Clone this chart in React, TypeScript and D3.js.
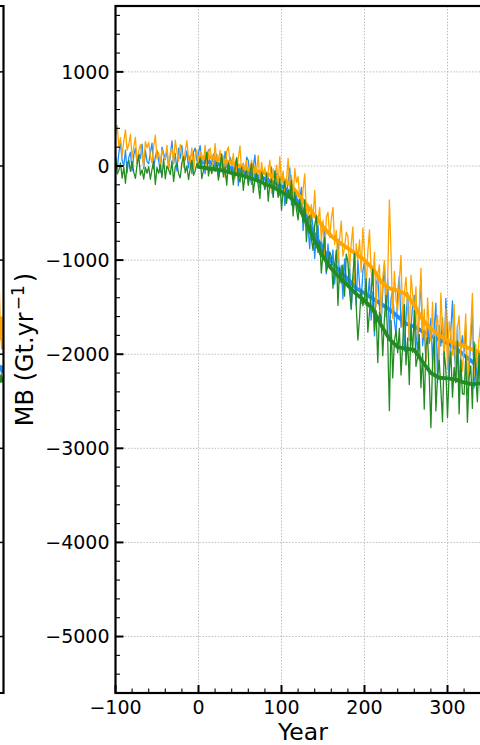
import React from 'react';
import * as d3 from 'd3';

// Annual mass balance (Gt/yr), one value every RAW_STEP years from START_YEAR
const START_YEAR = -100;
const RAW_STEP = 2;

const orangeRaw = [
  348, 432, 204, 300, 108, 264, 384, 168, 228, 336,
  83, 204, 303, 28, 160, 226, 116, -5, 259, 193,
  251, 108, 31, 207, 328, 75, 141, 20, 174, 97,
  76, 219, -23, 142, 186, 32, 274, 153, 54, 230,
  138, -16, 160, 270, 83, 28, 193, -49, 116, 171,
  -9, 156, 112, 46, 222, -42, 145, 189, 57, 2,
  238, 10, 58, 166, -50, 106, -122, 154, 202, 46,
  22, 130, -134, -26, 82, 214, -86, 34, -50, 58,
  -201, -21, 63, -117, 3, -57, 111, -177, 39, -93,
  -17, -212, -56, 61, -290, -30, -121, 9, -186, 100,
  -190, -55, -310, -145, 80, -250, -100, -355, -25, -175,
  -113, -356, -498, -248, -84, -497, -418, -627, -412, -553,
  -259, -642, -588, -439, -803, -578, -961, -546, -492, -761,
  -565, -439, -833, -687, -1021, -775, -587, -959, -871, -703,
  -743, -1085, -833, -647, -1253, -825, -992, -785, -1128, -657,
  -925, -1293, -911, -679, -1122, -1265, -918, -1496, -1149, -1052,
  -1594, -1188, -1006, -1440, -1174, -360, -941, -1618, -1119, -1432,
  -1535, -1212, -949, -1706, -1353, -1180, -1504, -1858, -1162, -1366,
  -1544, -1286, -1860, -1538, -1088, -1822, -1522, -2086, -1402, -1742,
  -1862, -1447, -2187, -1706, -1588, -2064, -1349, -1723, -2031, -1514,
  -2161, -1657, -1799, -2009, -1471, -2293, -1721, -1591, -2005, -2181,
  -1880, -1572, -2349, -2041, -1733, -1355, -2237, -1894, -2146, -1838,
  -1670,
];

const blueRaw = [
  113, -41, 135, 245, 58, 3, 168, -74, 91, 146,
  -53, 112, 189, 24, 134, 79, 233, -31, 167, 46,
  23, 144, 243, -32, 100, 166, 56, -65, 199, 133,
  68, 167, -20, 101, 266, 24, 134, -53, 189, 79,
  220, 30, 70, 160, -20, 110, -80, 150, 190, 60,
  139, 216, 7, 95, -81, 62, 172, -26, 29, 128,
  -12, 125, -122, 37, 76, -83, 154, 27, -77, 94,
  41, -129, -2, 92, -210, 5, -77, 28, -142, 95,
  57, -105, -195, -9, 117, -165, -99, -237, -75, -165,
  -252, -65, -126, -212, -13, -333, -120, -77, -241, -315,
  -200, -77, -419, -296, -173, -20, -416, -287, -413, -299,
  -499, -346, -227, -686, -516, -448, -655, -879, -508, -647,
  -982, -728, -626, -942, -783, -909, -667, -1147, -829, -1062,
  -1050, -892, -1254, -1056, -778, -1240, -1056, -1412, -988, -1204,
  -1288, -1022, -1526, -1216, -1148, -1476, -1002, -1254, -1462, -1120,
  -1014, -1482, -1398, -1194, -1638, -1338, -1805, -1264, -1179, -1502,
  -1699, -1321, -1050, -1605, -1201, -1837, -1410, -1321, -1648, -1793,
  -1348, -1167, -1714, -1505, -1968, -1619, -1345, -1855, -1721, -1475,
  -1375, -1776, -1997, -1528, -1209, -1910, -1739, -2078, -1667, -1886,
  -1619, -2092, -1728, -1457, -2302, -1690, -1914, -1611, -2083, -1408,
  -1784, -2243, -1742, -1433, -1988, -2159, -1694, -2413, -1948, -1803,
  -1977, -1694, -2434, -2151, -1868, -1519, -2360, -2046, -2293, -2012,
  -2358,
];

const greenRaw = [
  86, -85, -49, 32, -130, -13, -184, 23, 59, -58,
  49, -68, -131, 13, 112, -95, -41, -140, -14, -77,
  -6, -141, -33, 48, -195, -15, -78, 12, -123, 75,
  -136, -1, -37, -91, 53, -163, -10, 26, -82, -127,
  36, 99, -72, 0, -144, -27, 63, -99, -54, 27,
  0, 88, -135, -47, 40, 148, -105, -7, -80, 8,
  -57, 39, -151, -33, 129, -116, -11, -203, 34, -81,
  -42, -200, -28, 78, -113, -172, -12, -259, -99, -49,
  -204, -78, 24, -282, -144, -78, -206, -346, -66, -146,
  -242, -80, -373, -185, -140, -329, -53, -206, -333, -135,
  -470, -256, -162, -398, -259, -345, -153, -531, -279, -462,
  -573, -354, -458, -596, -360, -804, -555, -527, -771, -896,
  -629, -528, -921, -801, -1137, -922, -758, -1126, -1057, -912,
  -964, -1298, -1065, -895, -1481, -1080, -1244, -1051, -1383, -938,
  -1017, -1334, -1513, -1163, -928, -1475, -1850, -1618, -1310, -1485,
  -1405, -1198, -1766, -1559, -1352, -1095, -1754, -1538, -2090, -1556,
  -1609, -2017, -1615, -1375, -1864, -2600, -1641, -2252, -1864, -1746,
  -1983, -1725, -2221, -1905, -1473, -2114, -1827, -2323, -1688, -1981,
  -1535, -2130, -2035, -1790, -2355, -1990, -2584, -1918, -1822, -2236,
  -2780, -2086, -1817, -2602, -2240, -2064, -2375, -2717, -1974, -2161,
  -2672, -2195, -1974, -2457, -2140, -2302, -1860, -2634, -2064, -2422,
  -2428, -2016, -2724, -2248, -2124, -2576, -1870, -2220, -2506, -1992,
  -2470,
];

// Running means, one value every SMOOTH_STEP years from SMOOTH_START
const SMOOTH_START = 0;
const SMOOTH_STEP = 10;

const orangeMean = [
  85, 95, 88, 60, 30, 0, -35, -55, -80, -105,
  -130, -190, -300, -410, -525, -645, -745, -815, -875, -935,
  -1000, -1090, -1230, -1300, -1325, -1360, -1480, -1630, -1730, -1800,
  -1855, -1885, -1915, -1950, -1985,
];
const blueMean = [
  45, 45, 32, 5, -25, -50, -75, -105, -135, -175,
  -215, -275, -380, -550, -735, -890, -1010, -1120, -1200, -1300,
  -1350, -1410, -1465, -1525, -1600, -1675, -1705, -1760, -1805, -1845,
  -1880, -1935, -2010, -2080, -2160,
];
const greenMean = [
  -10, -22, -35, -50, -75, -95, -120, -150, -190, -225,
  -275, -330, -420, -600, -800, -960, -1090, -1185, -1270, -1360,
  -1430, -1520, -1690, -1840, -1925, -1940, -1955, -2080, -2200, -2250,
  -2256, -2270, -2300, -2320, -2310,
];

// Last few values of the neighbouring panel
const neighbourOrange = [-1300, -1850, -1600, -1950];
const neighbourBlue = [-2100, -2180, -2120, -2200];
const neighbourGreen = [-2220, -2300, -2250, -2300];

const xTickValues = [-100, 0, 100, 200, 300];
const yTickValues = [1000, 0, -1000, -2000, -3000, -4000, -5000];

const ORANGE = '#FFA500';
const BLUE = '#1E90FF';
const GREEN = '#228B22';
const FONT = '"DejaVu Sans", Verdana, sans-serif';

const fmt = (v: number) => (v < 0 ? '\u2212' + Math.abs(v) : String(v));

export default function App() {
  const W = 480;
  const H = 745;
  const left = 115.5;
  const top = 6;
  const bottom = 693;
  const right = 489;

  const x = d3.scaleLinear().domain([-100, 350]).range([left, right]);
  const y = d3.scaleLinear().domain([-5600, 1700]).range([bottom, top]);

  const rawLine = d3
    .line<number>()
    .x((_, i) => x(START_YEAR + i * RAW_STEP))
    .y((d) => y(d));
  const meanLine = d3
    .line<number>()
    .x((_, i) => x(SMOOTH_START + i * SMOOTH_STEP))
    .y((d) => y(d));

  // neighbouring panel: only its right edge is in view
  const xn = d3.scaleLinear().domain([0, neighbourOrange.length - 1]).range([-1.5, 2.5]);
  const nLine = d3
    .line<number>()
    .x((_, i) => xn(i))
    .y((d) => y(d));

  const xMinor = d3.range(-100, 351, 20).filter((v) => v % 100 !== 0);
  const yMinor = d3.range(-5600, 1701, 200).filter((v) => v % 1000 !== 0);

  const series = [
    { raw: blueRaw, mean: blueMean, color: BLUE },
    { raw: orangeRaw, mean: orangeMean, color: ORANGE },
    { raw: greenRaw, mean: greenMean, color: GREEN },
  ];

  return (
    <svg
      width={W}
      height={H}
      viewBox={`0 0 ${W} ${H}`}
      style={{ position: 'absolute', left: 0, top: 0, background: '#fff' }}
    >
      <defs>
        <clipPath id="plot-area">
          <rect x={left} y={top} width={right - left} height={bottom - top} />
        </clipPath>
        <clipPath id="neighbour-area">
          <rect x={-5} y={top} width={8.5} height={bottom - top} />
        </clipPath>
      </defs>
      <rect x={0} y={0} width={W} height={H} fill="#fff" />

      {/* neighbouring panel edge */}
      <g clipPath="url(#neighbour-area)">
        <path d={nLine(neighbourOrange) || ''} fill="none" stroke={ORANGE} strokeWidth={3} />
        <path d={nLine(neighbourBlue) || ''} fill="none" stroke={BLUE} strokeWidth={3} />
        <path d={nLine(neighbourGreen) || ''} fill="none" stroke={GREEN} strokeWidth={3} />
      </g>
      {yTickValues.map((v) => (
        <line key={'nt' + v} x1={0} x2={3.5} y1={y(v)} y2={y(v)} stroke="#000" strokeWidth={1.5} />
      ))}
      <path
        d={`M0,${top} H3.5 V${bottom} H0`}
        fill="none"
        stroke="#000"
        strokeWidth={2.2}
      />

      {/* grid */}
      <g stroke="#b5b5b5" strokeWidth={0.9} strokeDasharray="1.5,1.6">
        {xTickValues.map((v) => (
          <line key={'gx' + v} x1={x(v)} x2={x(v)} y1={top} y2={bottom} />
        ))}
        {yTickValues.map((v) => (
          <line key={'gy' + v} x1={left} x2={right} y1={y(v)} y2={y(v)} />
        ))}
      </g>

      {/* data */}
      <g clipPath="url(#plot-area)" strokeLinejoin="round" strokeLinecap="round">
        {series.map((s) => (
          <g key={s.color}>
            <path d={rawLine(s.raw) || ''} fill="none" stroke={s.color} strokeWidth={1.3} />
            <path d={meanLine(s.mean) || ''} fill="none" stroke={s.color} strokeWidth={3.8} />
          </g>
        ))}
      </g>

      {/* ticks, pointing inward */}
      <g stroke="#000">
        {xTickValues.map((v) => (
          <line key={'tx' + v} x1={x(v)} x2={x(v)} y1={bottom} y2={bottom - 8} strokeWidth={2} />
        ))}
        {xMinor.map((v) => (
          <line key={'mx' + v} x1={x(v)} x2={x(v)} y1={bottom} y2={bottom - 4.5} strokeWidth={1.1} />
        ))}
        {yTickValues.map((v) => (
          <line key={'ty' + v} x1={left} x2={left + 8} y1={y(v)} y2={y(v)} strokeWidth={2} />
        ))}
        {yMinor.map((v) => (
          <line key={'my' + v} x1={left} x2={left + 4.5} y1={y(v)} y2={y(v)} strokeWidth={1.1} />
        ))}
      </g>

      {/* frame */}
      <rect
        x={left}
        y={top}
        width={right - left}
        height={bottom - top}
        fill="none"
        stroke="#000"
        strokeWidth={2.2}
      />

      {/* tick labels */}
      <g fontFamily={FONT} fontSize={19} fill="#000">
        {xTickValues.map((v) => (
          <text key={'lx' + v} x={x(v)} y={713.5} textAnchor="middle">
            {fmt(v)}
          </text>
        ))}
        {yTickValues.map((v) => (
          <text key={'ly' + v} x={109.5} y={y(v) + 6.9} textAnchor="end">
            {fmt(v)}
          </text>
        ))}
      </g>

      {/* axis titles */}
      <text x={303} y={740} textAnchor="middle" fontFamily={FONT} fontSize={23.5} fill="#000">
        Year
      </text>
      <text
        transform={`translate(33, ${(top + bottom) / 2}) rotate(-90)`}
        textAnchor="middle"
        fontFamily={FONT}
        fontSize={24}
        fill="#000"
      >
        MB (Gt.yr
        <tspan dx={2} dy={-9.5} fontSize={17}>
          {'\u22121'}
        </tspan>
        <tspan dx={3} dy={9.5}>)</tspan>
      </text>
    </svg>
  );
}
